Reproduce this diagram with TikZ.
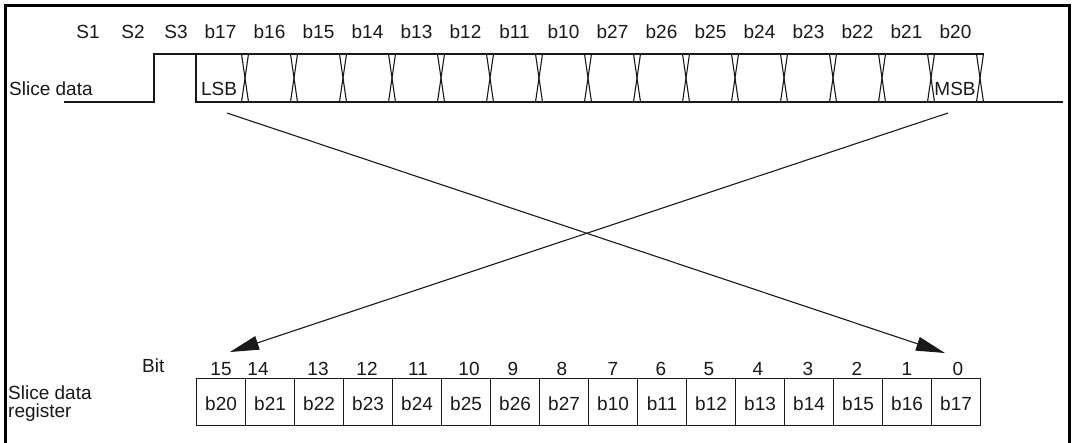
\documentclass[tikz,border=0pt]{standalone}
\usepackage{fontspec}
\setmainfont{Liberation Sans}
\usetikzlibrary{arrows.meta}
\begin{document}
\begin{tikzpicture}[x=1pt,y=-1pt,
  every node/.style={font=\fontsize{19}{21}\selectfont, inner sep=0pt, text=black!90},
  sig/.style={line width=1.1pt, draw=black!90},
  cell/.style={draw=black!90, line width=1.1pt, minimum width=49pt, minimum height=47pt,
     text height=17pt, text depth=0pt, anchor=north west},
  conn/.style={line width=1.1pt, draw=black!90, -{Triangle[length=29pt,width=14pt]}},
  frame/.style={line width=3pt, draw=black}]
\useasboundingbox (0,0) rectangle (1073,442);
\draw[frame] (5,446) -- (5,5) -- (1069,5) -- (1069,446);

% top labels
\node[anchor=base] (s1) at (88,38) {S1};
\node[anchor=base] (s2) at (133,38) {S2};
\node[anchor=base] (s3) at (176,38) {S3};
\foreach \t [count=\i from 0] in {b17,b16,b15,b14,b13,b12,b11,b10,b27,b26,b25,b24,b23,b22,b21,b20}
  \node[anchor=base] (t\i) at ({196+49*\i+24.5},38) {\t};

% signal
\node[anchor=base west] (sd) at (9,95) {Slice data};
\draw[sig] (64,102) -- (154,102) -- (154,54) -- (196,54) -- (196,102) -- (1063,102);
\draw[sig] (196,54) -- (983.5,54);
\foreach \i in {1,...,16} {
  \draw[sig] ({196+49*\i-3.5},54) -- ({196+49*\i+3.5},102);
  \draw[sig] ({196+49*\i+3.5},54) -- ({196+49*\i-3.5},102);
}
\node[anchor=base] (lsb) at (219,95) {LSB};
\node[anchor=base] (msb) at (955,95) {MSB};

% arrows
\coordinate (a1) at (227,113);
\coordinate (a2) at (945,353);
\coordinate (b1) at (948,113);
\coordinate (b2) at (230,352);
\draw[conn] (a1) -- (a2);
\draw[conn] (b1) -- (b2);

% register
\node[anchor=base west] (bit) at (142,372) {Bit};
\foreach \n/\x [count=\i from 0] in {15/221,14/258,13/318,12/367,11/418,10/469,9/513,8/562,7/613,6/661,5/709,4/758,3/808,2/857,1/907,0/958}
  \node[anchor=base] (n\i) at (\x,375) {\n};
\foreach \t [count=\i from 0] in {b20,b21,b22,b23,b24,b25,b26,b27,b10,b11,b12,b13,b14,b15,b16,b17}
  \node[cell] (r\i) at ({196+49*\i},378) {\t};
\node[anchor=base west] (sdr1) at (8,399) {Slice data};
\node[anchor=base west] (sdr2) at (8,417) {register};
\end{tikzpicture}
\end{document}
